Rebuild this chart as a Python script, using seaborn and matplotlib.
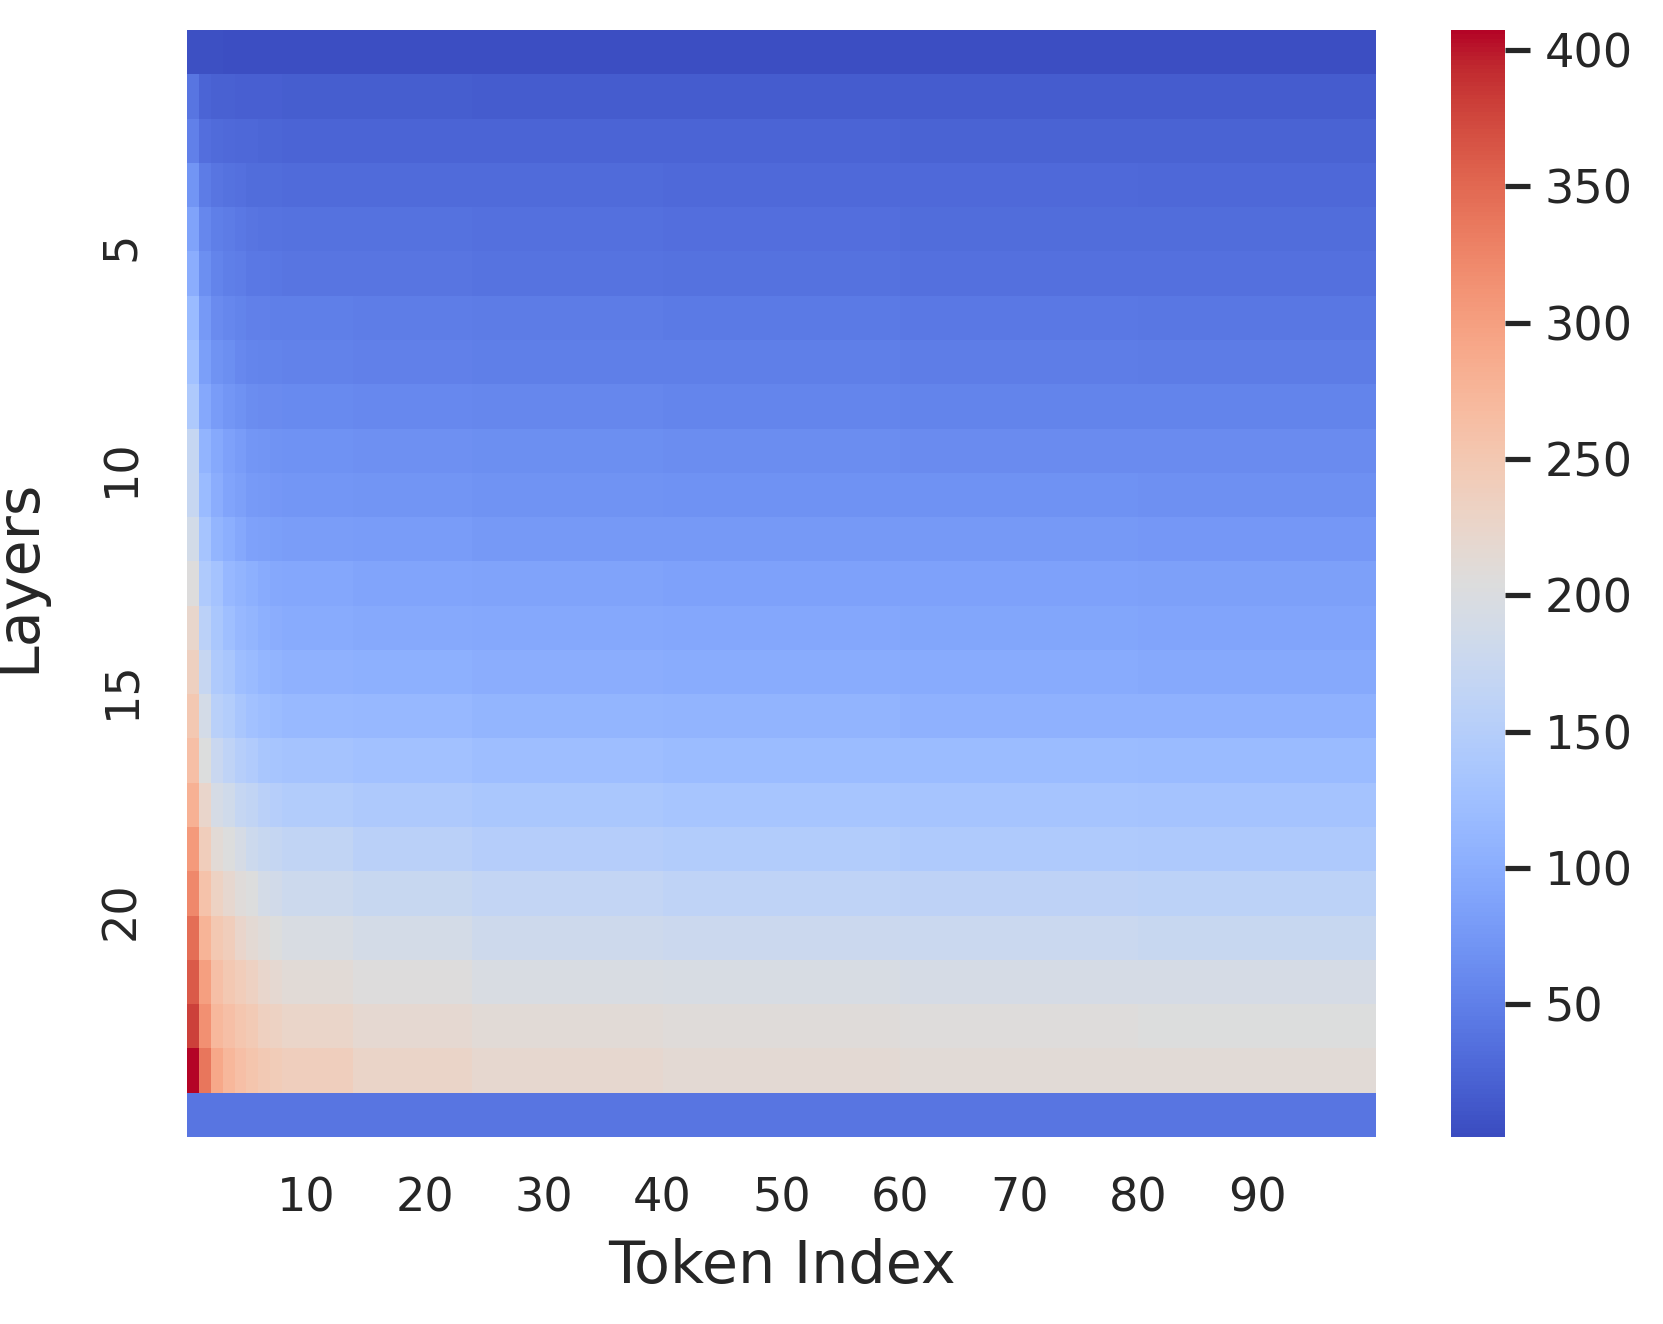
#!/usr/bin/env python3
"""Heatmap of token values per layer"""

import numpy as np
import matplotlib
matplotlib.use('Agg')
import matplotlib.pyplot as plt
from matplotlib.transforms import ScaledTranslation
import seaborn as sns

sns.set_theme()

# the first eight tokens of each layer, read one by one
first_tokens = [
    [5, 5, 5, 4, 4, 4, 4, 4],
    [40, 24, 22, 21, 20, 20, 19, 19],
    [52, 34, 30, 29, 28, 27, 26, 26],
    [72, 46, 40, 37, 35, 33, 33, 32],
    [88, 58, 50, 46, 43, 40, 39, 39],
    [100, 66, 54, 50, 48, 44, 43, 42],
    [118, 76, 62, 58, 54, 52, 51, 50],
    [128, 83, 70, 66, 60, 56, 55, 54],
    [142, 94, 80, 74, 68, 64, 63, 62],
    [170, 108, 95, 86, 80, 74, 72, 70],
    [172, 118, 100, 90, 84, 78, 76, 75],
    [188, 132, 110, 102, 94, 86, 84, 83],
    [205, 143, 130, 115, 108, 103, 98, 94],
    [222, 158, 137, 125, 115, 110, 104, 100],
    [235, 172, 143, 135, 122, 118, 112, 108],
    [250, 190, 155, 148, 135, 128, 122, 120],
    [262, 203, 175, 162, 152, 145, 136, 134],
    [280, 224, 193, 185, 170, 165, 156, 152],
    [305, 240, 213, 203, 193, 180, 174, 170],
    [322, 258, 232, 220, 208, 203, 190, 186],
    [345, 277, 250, 240, 224, 215, 208, 203],
    [360, 300, 262, 250, 242, 234, 222, 218],
    [380, 315, 272, 262, 252, 247, 236, 232],
    [407, 338, 290, 273, 262, 255, 248, 243],
    [40, 40, 40, 40, 40, 40, 40, 40],
]

# how many tokens each later band spans, tokens 9 to 100
band_widths = [6, 10, 16, 20, 20, 20]

# later tokens of each layer, one value per band
later_tokens = [
    [4, 4, 4, 4, 4, 3],
    [18, 18, 17, 17, 16, 16],
    [25, 25, 24, 24, 23, 23],
    [31, 31, 30, 29, 29, 28],
    [37, 37, 35, 34, 33, 32],
    [41, 40, 38, 37, 36, 35],
    [49, 48, 46, 45, 44, 42],
    [53, 52, 50, 49, 48, 47],
    [61, 60, 58, 56, 55, 54],
    [68, 67, 65, 64, 63, 62],
    [73, 72, 70, 69, 68, 67],
    [81, 80, 77, 77, 76, 75],
    [92, 90, 88, 87, 86, 85],
    [97, 96, 94, 92, 91, 90],
    [106, 104, 101, 99, 97, 96],
    [117, 114, 110, 108, 106, 105],
    [130, 127, 123, 120, 119, 118],
    [147, 142, 137, 134, 132, 130],
    [165, 156, 150, 146, 144, 142],
    [180, 174, 167, 163, 161, 159],
    [198, 190, 182, 178, 176, 174],
    [212, 205, 198, 195, 193, 192],
    [225, 218, 212, 208, 206, 204],
    [238, 228, 220, 214, 212, 211],
    [40, 40, 40, 40, 40, 40],
]

x_ticks = [10, 20, 30, 40, 50, 60, 70, 80, 90]
y_ticks = [5, 10, 15, 20]


def main():
    values = np.hstack([np.array(first_tokens),
                        np.repeat(np.array(later_tokens), band_widths, axis=1)])

    fig = plt.figure(figsize=(1663 / 300, 1324 / 300), dpi=300)
    ax = fig.add_axes([187 / 1663, 1 - 1137 / 1324, 1189 / 1663, 1107 / 1324])
    cax = fig.add_axes([1451 / 1663, 1 - 1137 / 1324, 54 / 1663, 1107 / 1324])

    sns.heatmap(values, cmap='coolwarm', vmin=1.4, vmax=407.3, ax=ax, cbar_ax=cax,
                xticklabels=False, yticklabels=False)

    ax.set_xticks(x_ticks)
    ax.set_xticklabels(x_ticks, rotation=0, fontsize=11.1)
    ax.set_yticks(y_ticks)
    ax.set_yticklabels(y_ticks, rotation=90, va='center', fontsize=11.1)
    ax.set_xlabel('Token Index', fontsize=14.1)
    ax.set_ylabel('Layers', fontsize=14.1)

    # nudge the vertical text to where it sits in the reference
    nudge = ScaledTranslation(-3 / 300, 5 / 300, fig.dpi_scale_trans)
    for label in ax.get_yticklabels():
        label.set_transform(label.get_transform() + nudge)
    ax.yaxis.set_label_coords(-0.118, 0.5065)

    cax.set_yticks([50, 100, 150, 200, 250, 300, 350, 400])
    cax.tick_params(axis='y', right=True, length=6, width=1.25, labelsize=11.1)

    fig.savefig('out.png', dpi=300)
    plt.close(fig)


if __name__ == "__main__":
    main()
